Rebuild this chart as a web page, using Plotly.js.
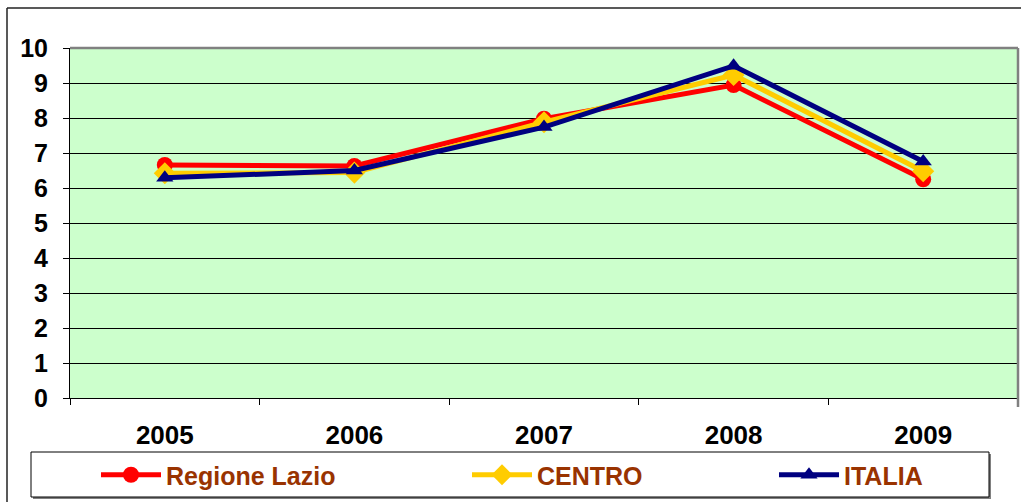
<!DOCTYPE html>
<html>
<head>
<meta charset="utf-8">
<script src="https://cdn.plot.ly/plotly-3.0.1.min.js"></script>
<style>html,body{margin:0;padding:0;background:#fff;}#chart{width:1021px;height:502px;}</style>
</head>
<body>
<div id="chart"></div>
<script>
const years = ['2005', '2006', '2007', '2008', '2009'];
const lazio = [6.66, 6.63, 7.98, 8.94, 6.25];
const centro = [6.42, 6.44, 7.88, 9.23, 6.48];
const italia = [6.29, 6.50, 7.74, 9.49, 6.76];
const seriesNames = ['Regione Lazio', 'CENTRO', 'ITALIA'];

const font = {family: 'Liberation Sans, Arial, sans-serif'};
const specs = [
  {y: lazio, color: '#FF0000', symbol: 'circle', size: 16, legend: 'legend'},
  {y: centro, color: '#FFCC00', symbol: 'diamond', size: 17, legend: 'legend2'},
  {y: italia, color: '#000080', symbol: 'triangle-up', size: 15, legend: 'legend3'}
];
const traces = specs.map((t, i) => ({
  type: 'scatter', mode: 'lines+markers', name: seriesNames[i], x: years, y: t.y,
  legend: t.legend,
  line: {color: t.color, width: 5},
  marker: {color: t.color, symbol: t.symbol, size: t.size, line: {width: 0}}
}));

const L = 70, R = 1018, T = 48, B = 398, W = R - L, H = B - T;
const px = x => (x - L) / W;
const py = y => (B - y) / H;

const legendBase = x => ({
  orientation: 'h', x: px(x), xanchor: 'left', y: py(475), yanchor: 'middle',
  bgcolor: 'rgba(0,0,0,0)', borderwidth: 0,
  font: {family: font.family, size: 25, color: '#993300', weight: 'bold'},
  itemwidth: 60
});

const layout = {
  width: 1021, height: 502,
  margin: {l: L, r: 1021 - R, t: T, b: 502 - B, pad: 0},
  paper_bgcolor: '#FFFFFF',
  plot_bgcolor: '#CCFFCC',
  showlegend: true,
  font: font,
  xaxis: {
    type: 'category', range: [-0.5, 4.5], fixedrange: true,
    showgrid: false, zeroline: false,
    showline: true, linecolor: '#000', linewidth: 1,
    ticks: 'outside', ticklen: 6, tickcolor: '#000', tickson: 'boundaries',
    tickfont: {family: font.family, size: 26, color: '#000', weight: 'bold'},
    ticklabelstandoff: 14
  },
  yaxis: {
    range: [0, 10], dtick: 1, fixedrange: true,
    showgrid: true, gridcolor: '#000', gridwidth: 1, zeroline: false,
    showline: true, linecolor: '#000', linewidth: 1,
    ticks: 'outside', ticklen: 6, tickcolor: '#000',
    tickfont: {family: font.family, size: 25, color: '#000', weight: 'bold'},
    ticklabelstandoff: 10
  },
  legend: legendBase(96),
  legend2: legendBase(467),
  legend3: legendBase(774),
  shapes: [
    {type: 'rect', xref: 'paper', yref: 'paper', x0: px(33), x1: px(991), y0: py(499), y1: py(454),
     line: {width: 0}, fillcolor: '#808080', layer: 'below'},
    {type: 'rect', xref: 'paper', yref: 'paper', x0: px(31), x1: px(989), y0: py(497), y1: py(452),
     line: {color: '#000', width: 1}, fillcolor: '#FFFFFF', layer: 'below'},
    {type: 'line', xref: 'paper', yref: 'paper', x0: px(7), x1: px(7), y0: py(502), y1: py(8),
     line: {color: '#222', width: 1.5}},
    {type: 'line', xref: 'paper', yref: 'paper', x0: px(7), x1: px(1021), y0: py(8), y1: py(8),
     line: {color: '#222', width: 1.5}},
    {type: 'line', xref: 'paper', yref: 'paper', x0: 0, x1: 1, y0: 1, y1: 1,
     line: {color: '#808080', width: 2.5}},
    {type: 'line', xref: 'paper', yref: 'paper', x0: 1, x1: 1, y0: py(407), y1: 1,
     line: {color: '#808080', width: 2.5}}
  ]
};

Plotly.newPlot('chart', traces, layout, {displayModeBar: false, staticPlot: true});
</script>
</body>
</html>
